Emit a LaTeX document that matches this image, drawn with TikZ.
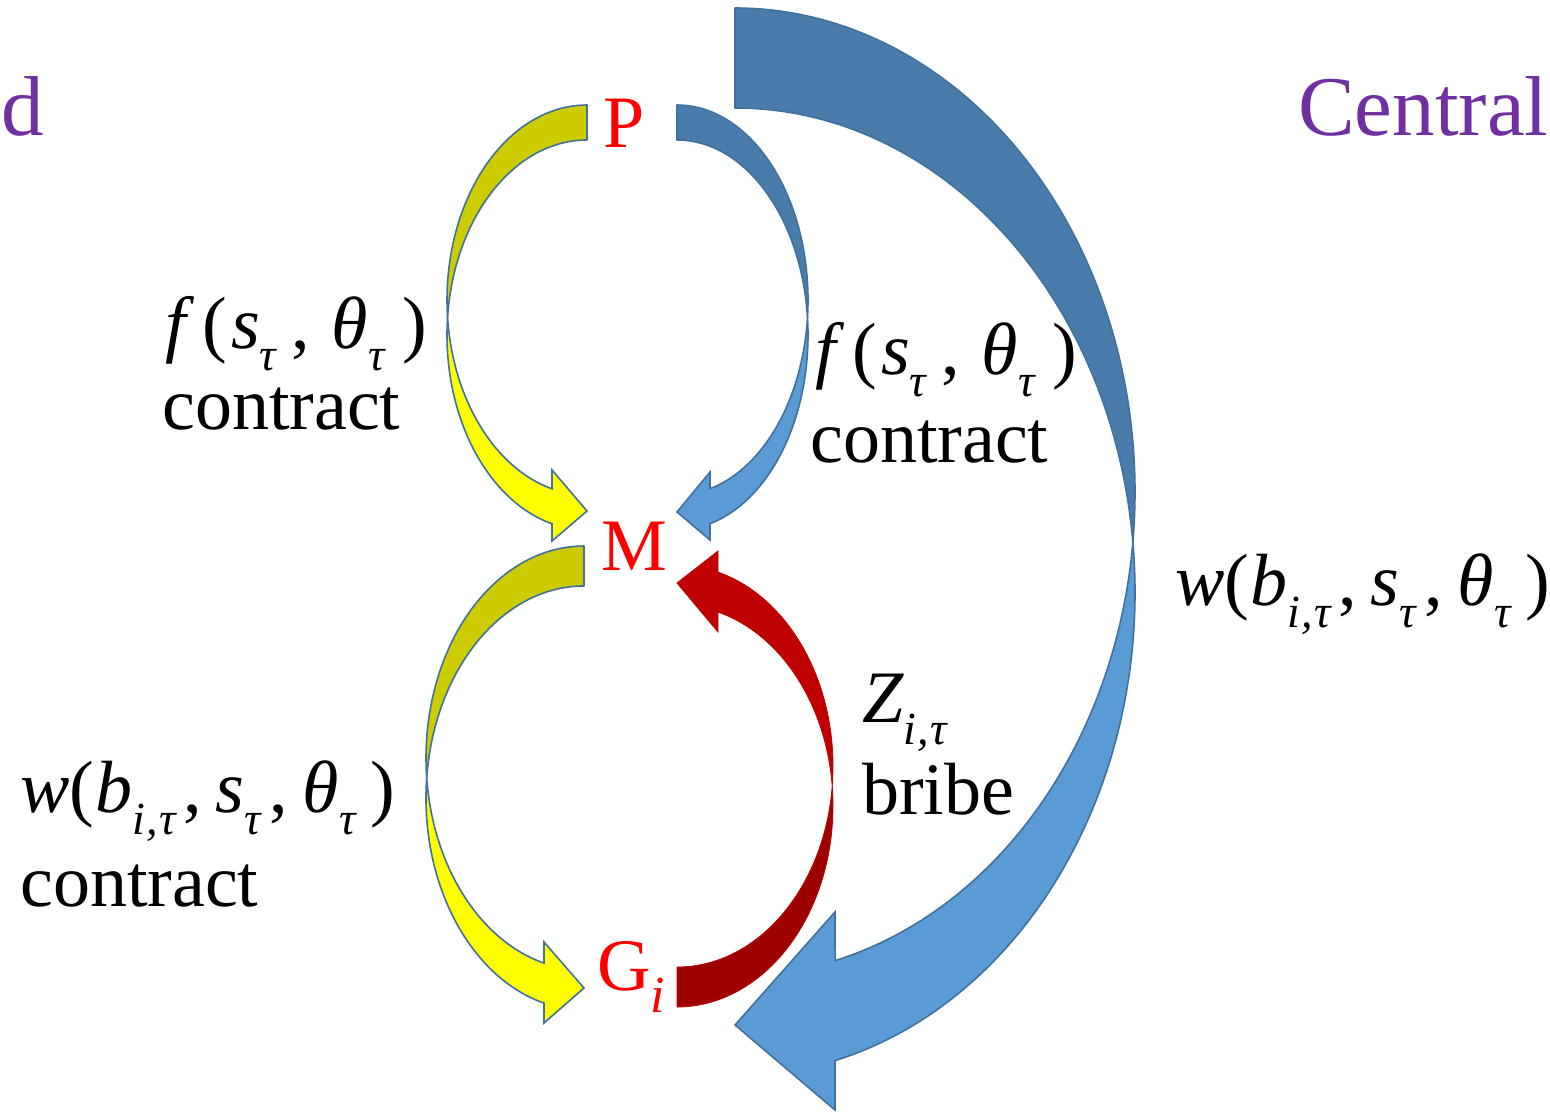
\documentclass[tikz,border=0pt]{standalone}
\usepackage{fontspec}
\setmainfont{Liberation Serif}
\definecolor{ybk}{HTML}{CCCC00}
\definecolor{yfr}{HTML}{FFFF00}
\definecolor{bbk}{HTML}{497CAA}
\definecolor{bfr}{HTML}{5B9BD5}
\definecolor{bline}{HTML}{41719C}
\definecolor{rbk}{HTML}{9E0000}
\definecolor{rfr}{HTML}{C00000}
\definecolor{rline}{HTML}{C00000}
\definecolor{purp}{HTML}{7030A0}
\definecolor{lred}{HTML}{FF0000}
\newcommand{\subx}[1]{\raisebox{-0.3em}{\fontsize{46}{46}\selectfont\itshape #1}}
\newcommand{\lblsize}{\fontsize{74}{74}\selectfont}
\newcommand{\flabel}{{\itshape f}\kern0.22em(\kern0.06em{\itshape s}\subx{τ}\kern0.2em,\kern0.3em{\itshape θ}\subx{τ}\kern0.24em)}
\newcommand{\wlabel}{{\itshape w}(\kern0.02em{\itshape b}\subx{i\kern0.03em,\kern0.03emτ}\kern0.1em,\kern0.18em{\itshape s}\subx{τ}\kern0.12em,\kern0.2em{\itshape θ}\subx{τ}\kern0.2em)}
\tikzset{
  yback/.style={fill=ybk, draw=bline, line width=1.6pt, line join=round},
  yfront/.style={fill=yfr, draw=bline, line width=1.6pt, line join=miter},
  bback/.style={fill=bbk, draw=bline, line width=1.6pt, line join=round},
  bfront/.style={fill=bfr, draw=bline, line width=1.6pt, line join=miter},
  rback/.style={fill=rbk, draw=rline, line width=0.8pt, line join=round},
  rfront/.style={fill=rfr, draw=rline, line width=0.8pt, line join=miter},
  lbl/.style={anchor=base west, inner sep=0pt, font=\lblsize},
  agent/.style={anchor=base west, inner sep=0pt, text=lred, font=\lblsize},
  side/.style={anchor=base west, inner sep=0pt, text=purp, font=\fontsize{85}{85}\selectfont}
}
\begin{document}
\begin{tikzpicture}[x=1pt,y=-1pt]
\useasboundingbox (0,0) rectangle (1550,1112);

% yellow P -> M
\draw[yback] (587,105) arc[start angle=270, end angle=174.85, x radius=140, y radius=195]
  arc[start angle=185.15, end angle=270, x radius=140, y radius=195] -- cycle;
\draw[yfront] (447.57,317.5) arc[start angle=174.85, end angle=104.48, x radius=140, y radius=195]
  -- (552,470) -- (587,511) -- (552,541) -- (552,523.8)
  arc[start angle=104.48, end angle=185.15, x radius=140, y radius=195] -- cycle;

% yellow M -> G
\draw[yback] (584,546) arc[start angle=270, end angle=174.59, x radius=158, y radius=212]
  arc[start angle=185.41, end angle=270, x radius=158, y radius=212] -- cycle;
\draw[yfront] (426.7,778) arc[start angle=174.59, end angle=104.66, x radius=158, y radius=212]
  -- (544,942) -- (584,988) -- (544,1023) -- (544,1003.1)
  arc[start angle=104.66, end angle=185.41, x radius=158, y radius=212] -- cycle;

% small blue P -> M
\draw[bback] (677,105) arc[start angle=270, end angle=365.15, x radius=131, y radius=195]
  arc[start angle=354.85, end angle=270, x radius=131, y radius=195] -- cycle;
\draw[bfront] (807.5,317.5) arc[start angle=5.15, end angle=75.41, x radius=131, y radius=195]
  -- (710,472) -- (677,512) -- (710,540) -- (710,523.7)
  arc[start angle=75.41, end angle=-5.15, x radius=131, y radius=195] -- cycle;

% red G -> M
\draw[rback] (677,1007) arc[start angle=90, end angle=-5.71, x radius=156, y radius=201]
  arc[start angle=5.71, end angle=90, x radius=156, y radius=201] -- cycle;
\draw[rfront] (832.2,786) arc[start angle=-5.71, end angle=-74.76, x radius=156, y radius=201]
  -- (718,632) -- (677,583) -- (718,551) -- (718,572.1)
  arc[start angle=-74.76, end angle=5.71, x radius=156, y radius=201] -- cycle;

% big blue P -> G
\draw[bback] (735,8) arc[start angle=270, end angle=365.93, x radius=400, y radius=484]
  arc[start angle=354.07, end angle=270, x radius=400, y radius=484] -- cycle;
\draw[bfront] (1132.9,542) arc[start angle=5.93, end angle=75.52, x radius=400, y radius=484]
  -- (835,912) -- (735,1025) -- (835,1110) -- (835,1060.6)
  arc[start angle=75.52, end angle=-5.93, x radius=400, y radius=484] -- cycle;

% agents
\node[agent] (P) at (603,147) {P};
\node[agent] (M) at (601,570) {M};
\node[agent] (G) at (597,990) {G\raisebox{-0.3em}{\fontsize{52}{52}\selectfont\itshape i}};

% side titles
\node[side] (d) at (1,135) {d};
\node[side] (central) at (1298,135) {Central};

% labels
\node[lbl] (f1) at (165,348) {\flabel};
\node[lbl] (c1) at (162,429) {contract};
\node[lbl] (f2) at (815,374) {\flabel};
\node[lbl] (c2) at (810,462) {contract};
\node[lbl] (w1) at (20,812) {\wlabel};
\node[lbl] (c3) at (20,906) {contract};
\node[lbl] (z) at (862,722) {{\itshape Z}\subx{i\kern0.03em,\kern0.03emτ}};
\node[lbl] (br) at (862,814) {bribe};
\node[lbl] (w2) at (1175,605) {\wlabel};
\end{tikzpicture}
\end{document}
